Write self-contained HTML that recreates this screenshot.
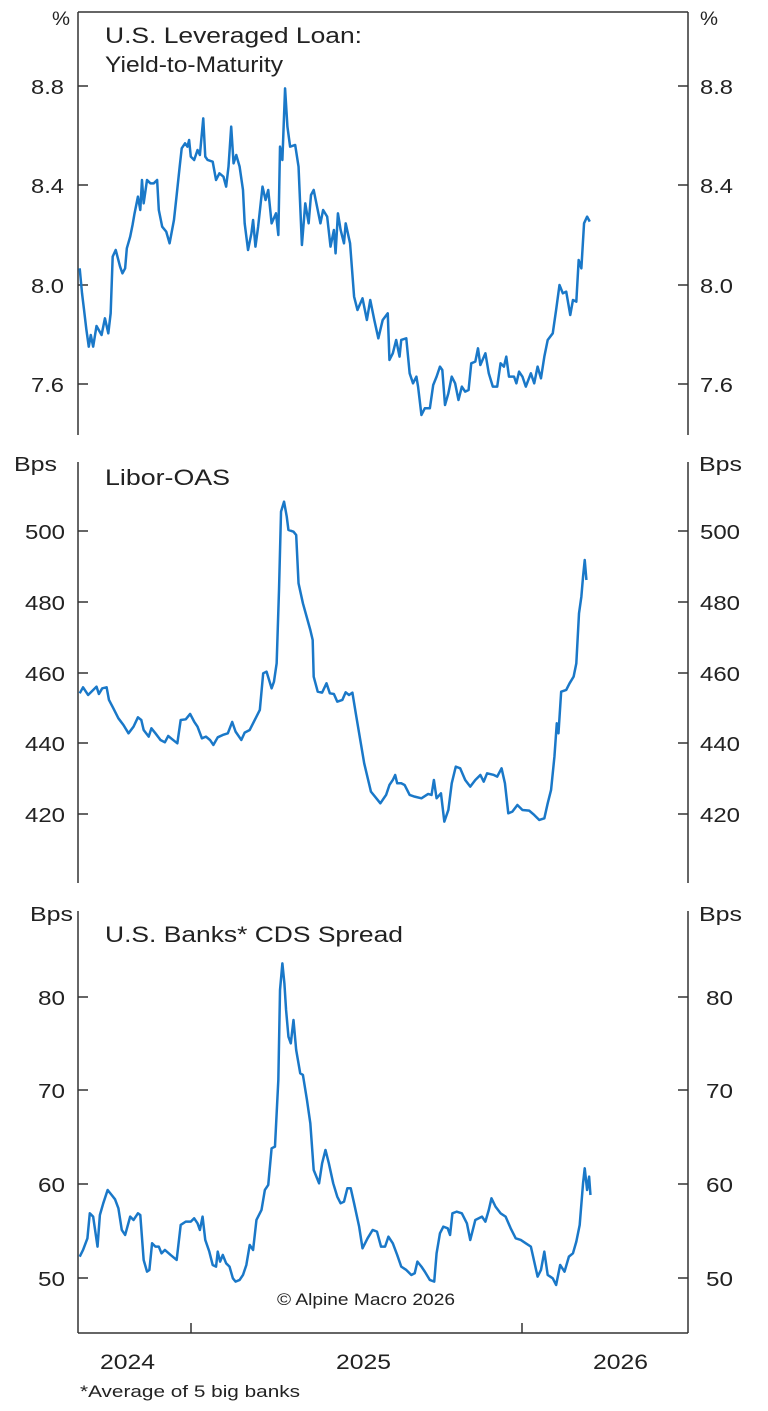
<!DOCTYPE html>
<html><head><meta charset="utf-8"><style>
html,body{margin:0;padding:0;background:#fff;}
svg{display:block;}
text{font-family:"Liberation Sans",Arial,sans-serif;fill:#222;}
</style></head><body>
<svg width="768" height="1411" viewBox="0 0 768 1411" xmlns="http://www.w3.org/2000/svg">
<g stroke="#333" stroke-width="1.5" fill="none">
<line x1="78" y1="12" x2="688" y2="12"/>
<line x1="78" y1="12" x2="78" y2="435"/>
<line x1="688" y1="12" x2="688" y2="435"/>
<line x1="78" y1="86" x2="88" y2="86"/><line x1="78" y1="185" x2="88" y2="185"/><line x1="78" y1="285" x2="88" y2="285"/><line x1="78" y1="384" x2="88" y2="384"/>
<line x1="678" y1="86" x2="688" y2="86"/><line x1="678" y1="185" x2="688" y2="185"/><line x1="678" y1="285" x2="688" y2="285"/><line x1="678" y1="384" x2="688" y2="384"/>
<line x1="78" y1="462" x2="78" y2="883"/>
<line x1="688" y1="462" x2="688" y2="883"/>
<line x1="78" y1="531" x2="88" y2="531"/><line x1="78" y1="602" x2="88" y2="602"/><line x1="78" y1="673" x2="88" y2="673"/><line x1="78" y1="743" x2="88" y2="743"/><line x1="78" y1="814" x2="88" y2="814"/>
<line x1="678" y1="531" x2="688" y2="531"/><line x1="678" y1="602" x2="688" y2="602"/><line x1="678" y1="673" x2="688" y2="673"/><line x1="678" y1="743" x2="688" y2="743"/><line x1="678" y1="814" x2="688" y2="814"/>
<line x1="78" y1="911" x2="78" y2="1333"/>
<line x1="688" y1="911" x2="688" y2="1333"/>
<line x1="78" y1="1333" x2="688" y2="1333"/>
<line x1="78" y1="997" x2="88" y2="997"/><line x1="78" y1="1090" x2="88" y2="1090"/><line x1="78" y1="1184" x2="88" y2="1184"/><line x1="78" y1="1278" x2="88" y2="1278"/>
<line x1="678" y1="997" x2="688" y2="997"/><line x1="678" y1="1090" x2="688" y2="1090"/><line x1="678" y1="1184" x2="688" y2="1184"/><line x1="678" y1="1278" x2="688" y2="1278"/>
<line x1="191" y1="1323" x2="191" y2="1333"/><line x1="522" y1="1323" x2="522" y2="1333"/>
</g>

<g font-size="20" lengthAdjust="spacingAndGlyphs">
<text x="52" y="25" font-size="19" textLength="18" lengthAdjust="spacingAndGlyphs">%</text><text x="700" y="25" font-size="19" textLength="18" lengthAdjust="spacingAndGlyphs">%</text>
<text x="31" y="94" textLength="33" lengthAdjust="spacingAndGlyphs">8.8</text><text x="31" y="193" textLength="33" lengthAdjust="spacingAndGlyphs">8.4</text><text x="31" y="293" textLength="33" lengthAdjust="spacingAndGlyphs">8.0</text><text x="31" y="392" textLength="33" lengthAdjust="spacingAndGlyphs">7.6</text>
<text x="700" y="94" textLength="33" lengthAdjust="spacingAndGlyphs">8.8</text><text x="700" y="193" textLength="33" lengthAdjust="spacingAndGlyphs">8.4</text><text x="700" y="293" textLength="33" lengthAdjust="spacingAndGlyphs">8.0</text><text x="700" y="392" textLength="33" lengthAdjust="spacingAndGlyphs">7.6</text>
<text x="14" y="471" textLength="43" lengthAdjust="spacingAndGlyphs">Bps</text><text x="699" y="471" textLength="43" lengthAdjust="spacingAndGlyphs">Bps</text>
<text x="25" y="539" textLength="40" lengthAdjust="spacingAndGlyphs">500</text><text x="25" y="610" textLength="40" lengthAdjust="spacingAndGlyphs">480</text><text x="25" y="681" textLength="40" lengthAdjust="spacingAndGlyphs">460</text><text x="25" y="751" textLength="40" lengthAdjust="spacingAndGlyphs">440</text><text x="25" y="822" textLength="40" lengthAdjust="spacingAndGlyphs">420</text>
<text x="700" y="539" textLength="40" lengthAdjust="spacingAndGlyphs">500</text><text x="700" y="610" textLength="40" lengthAdjust="spacingAndGlyphs">480</text><text x="700" y="681" textLength="40" lengthAdjust="spacingAndGlyphs">460</text><text x="700" y="751" textLength="40" lengthAdjust="spacingAndGlyphs">440</text><text x="700" y="822" textLength="40" lengthAdjust="spacingAndGlyphs">420</text>
<text x="30" y="921" textLength="43" lengthAdjust="spacingAndGlyphs">Bps</text><text x="699" y="921" textLength="43" lengthAdjust="spacingAndGlyphs">Bps</text>
<text x="38" y="1005" textLength="27" lengthAdjust="spacingAndGlyphs">80</text><text x="38" y="1098" textLength="27" lengthAdjust="spacingAndGlyphs">70</text><text x="38" y="1192" textLength="27" lengthAdjust="spacingAndGlyphs">60</text><text x="38" y="1286" textLength="27" lengthAdjust="spacingAndGlyphs">50</text>
<text x="706" y="1005" textLength="27" lengthAdjust="spacingAndGlyphs">80</text><text x="706" y="1098" textLength="27" lengthAdjust="spacingAndGlyphs">70</text><text x="706" y="1192" textLength="27" lengthAdjust="spacingAndGlyphs">60</text><text x="706" y="1286" textLength="27" lengthAdjust="spacingAndGlyphs">50</text>
<text x="100" y="1369" font-size="21" textLength="55" lengthAdjust="spacingAndGlyphs">2024</text><text x="336" y="1369" font-size="21" textLength="55" lengthAdjust="spacingAndGlyphs">2025</text><text x="593" y="1369" font-size="21" textLength="55" lengthAdjust="spacingAndGlyphs">2026</text>
</g>
<g font-size="22.5">
<text x="105" y="43" textLength="257" lengthAdjust="spacingAndGlyphs">U.S. Leveraged Loan:</text>
<text x="105" y="72" textLength="178" lengthAdjust="spacingAndGlyphs">Yield-to-Maturity</text>
<text x="105" y="485" textLength="125" lengthAdjust="spacingAndGlyphs">Libor-OAS</text>
<text x="105" y="942" textLength="298" lengthAdjust="spacingAndGlyphs">U.S. Banks* CDS Spread</text>
</g>
<text x="277" y="1305" font-size="17" textLength="178" lengthAdjust="spacingAndGlyphs">© Alpine Macro 2026</text>
<text x="80" y="1397" font-size="17" textLength="220" lengthAdjust="spacingAndGlyphs">*Average of 5 big banks</text>

<g fill="none" stroke="#1a78c8" stroke-width="2.5" stroke-linejoin="round">
<g transform="translate(78,80) scale(0.3367,0.3333)">
<polyline vector-effect="non-scaling-stroke" points="5,565 12,640 18,690 25,750 32,800 38,765 45,800 55,738 70,765 80,715 90,760 97,700 103,530 112,510 125,560 132,580 140,565 145,505 155,470 162,435 168,400 178,350 185,390 190,300 195,370 205,300 215,310 225,310 235,300 240,390 250,440 262,455 272,490 285,420 292,355 302,260 308,205 318,190 325,200 330,180 335,230 345,240 355,210 362,225 372,115 378,230 385,240 400,245 410,300 420,280 432,290 440,320 447,260 455,140 462,250 470,225 480,260 490,330 495,430 505,510 515,460 520,420 527,500 535,440 548,320 557,360 565,330 575,430 588,400 595,465 600,200 607,240 615,25 622,140 630,200 645,195 655,260 665,495 675,370 685,430 692,345 700,330 708,370 720,430 728,390 740,410 750,500 760,450 765,520 772,400 780,450 790,490 795,430 808,490 820,650 830,690 845,655 858,720 868,660 880,720 892,775 905,720 920,700 925,840 935,820 945,780 955,830 960,780 975,775 985,880 995,910 1005,890 1010,920 1020,1005 1030,985 1045,985 1055,915 1065,890 1075,860 1082,870 1090,975 1100,940 1110,890 1120,910 1130,960 1140,920 1150,935 1160,930 1168,850 1180,845 1188,805 1195,855 1210,820 1220,880 1232,920 1245,920 1255,850 1265,860 1272,830 1280,890 1295,890 1302,910 1310,875 1320,890 1330,920 1345,880 1355,910 1365,860 1375,895 1385,830 1395,780 1410,760 1420,690 1430,615 1440,640 1450,635 1462,705 1470,660 1480,665 1487,540 1495,565 1503,430 1512,410 1520,425"/>
</g>
<g transform="translate(78,490) scale(0.3367,0.3333)">
<polyline vector-effect="non-scaling-stroke" points="5,610 15,592 30,615 45,600 55,590 62,612 72,595 85,592 92,630 105,655 120,685 135,705 150,730 165,710 178,682 188,690 195,720 210,740 218,715 230,730 245,750 258,757 268,738 280,748 295,760 305,690 320,688 333,672 345,695 355,710 368,745 380,740 392,750 402,765 415,742 430,735 445,730 458,696 468,725 485,750 495,728 510,720 525,690 540,660 550,550 560,545 575,595 582,575 590,520 597,300 603,65 612,35 620,80 625,120 640,125 648,135 655,280 668,340 690,420 697,450 700,560 712,605 725,608 738,580 748,610 760,612 770,635 785,630 795,607 805,615 815,608 825,670 840,760 850,820 870,905 890,930 898,940 915,915 925,885 935,870 942,855 948,880 960,880 970,885 985,915 1000,920 1020,925 1040,912 1050,915 1057,870 1065,925 1078,910 1088,995 1100,960 1110,880 1122,830 1135,835 1150,870 1165,890 1180,870 1195,855 1205,875 1215,850 1235,855 1245,860 1258,835 1268,880 1278,970 1290,965 1305,945 1320,960 1340,962 1355,975 1370,990 1385,985 1395,940 1405,900 1415,800 1422,700 1427,730 1435,605 1450,600 1460,580 1472,560 1480,520 1488,370 1495,320 1500,260 1505,210 1510,270"/>
</g>
<g transform="translate(78,950) scale(0.3367,0.3333)">
<polyline vector-effect="non-scaling-stroke" points="5,920 15,900 28,865 35,790 45,800 58,890 65,795 75,760 88,720 100,735 110,748 120,775 130,840 140,855 155,800 165,810 178,790 185,795 195,930 205,965 212,960 220,880 230,890 240,890 248,910 258,900 275,915 293,930 305,825 320,815 335,815 345,805 355,820 362,840 370,800 378,870 390,905 400,945 410,950 415,905 422,935 430,915 440,940 450,950 460,985 468,995 480,990 490,975 500,945 510,885 520,900 530,810 545,780 555,720 565,705 575,595 585,590 595,390 600,120 607,40 613,100 618,180 625,260 632,280 640,210 648,300 660,370 668,375 680,450 690,520 700,660 708,680 716,700 725,640 735,600 745,640 758,700 770,740 780,760 790,755 800,715 810,715 820,760 835,830 845,895 860,865 875,840 888,845 900,890 912,890 922,860 935,880 948,915 960,950 975,960 990,975 1000,970 1008,935 1020,950 1030,965 1045,990 1058,995 1065,910 1075,850 1085,830 1098,835 1105,855 1112,790 1125,785 1140,790 1155,820 1165,870 1175,830 1180,810 1200,800 1210,815 1220,780 1228,745 1240,770 1255,790 1270,800 1285,835 1300,865 1315,870 1330,880 1345,890 1355,935 1365,980 1375,960 1385,905 1395,975 1410,985 1420,1005 1432,945 1445,965 1458,920 1470,910 1480,875 1490,825 1500,700 1505,655 1512,720 1518,680 1522,735"/>
</g>
</g>
</svg>
</body></html>
